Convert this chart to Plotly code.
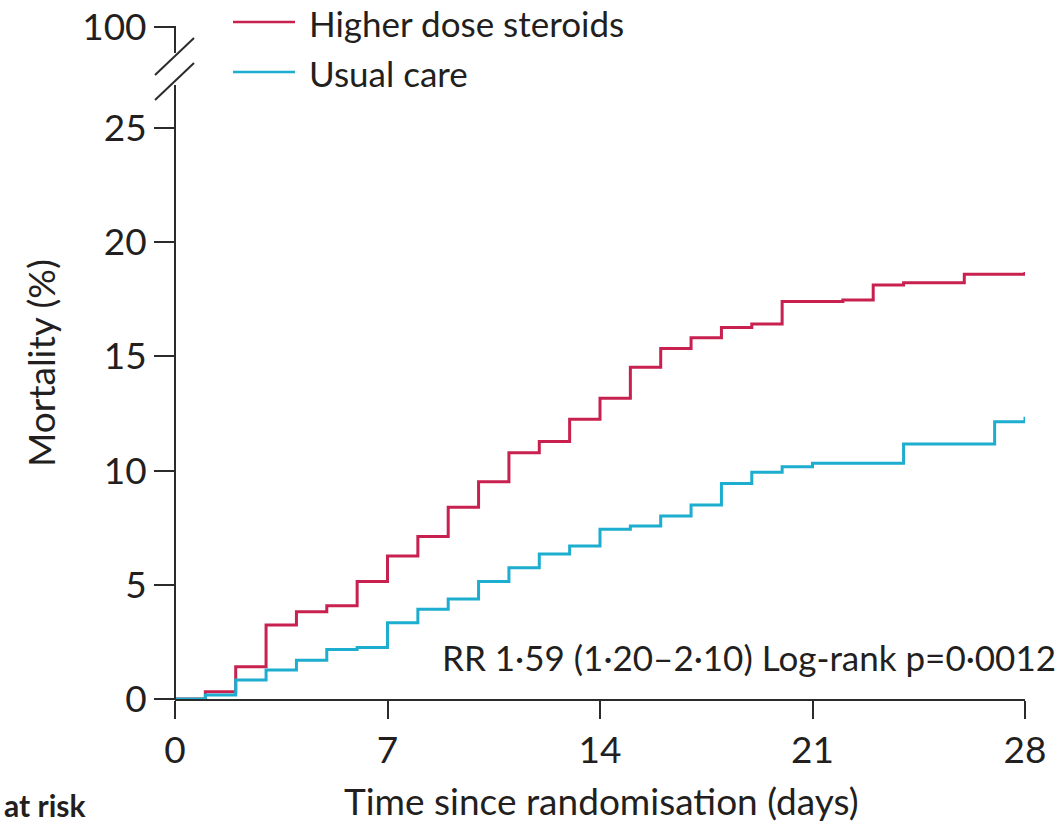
import plotly.graph_objects as go

# ---- data ----
days = list(range(0, 29))
higher_dose = [0, 0.32, 1.41, 3.24, 3.82, 4.08, 5.14, 6.26, 7.11, 8.39, 9.51, 10.78, 11.27,
               12.25, 13.17, 14.52, 15.35, 15.82, 16.27, 16.42, 17.40, 17.40, 17.47, 18.13,
               18.23, 18.23, 18.60, 18.60, 18.70]
usual_care = [0, 0.18, 0.83, 1.27, 1.70, 2.17, 2.26, 3.34, 3.93, 4.38, 5.14, 5.75, 6.35,
              6.70, 7.43, 7.57, 8.01, 8.49, 9.44, 9.93, 10.17, 10.32, 10.32, 10.32, 11.16,
              11.16, 11.16, 12.14, 12.36]
series_names = ["Higher dose steroids", "Usual care"]
x_ticks = [0, 7, 14, 21, 28]
y_ticks = [0, 5, 10, 15, 20, 25]
y_tick_labels = ["0", "5", "10", "15", "20", "25"]
top_tick_label = "100"
x_title = "Time since randomisation (days)"
y_title = "Mortality (%)"
annotation_text = "RR 1·59 (1·20–2·10) Log-rank p=0·0012"
risk_label = "at risk"

RED = "#C8204F"
BLUE = "#1DADCF"
AXIS = "#2b2b2b"
TXT = "#231F20"
FONT = "Lato, sans-serif"
FS = 37
FS_SMALL = 35

# geometry
W, H = 1064, 825
px0, px1 = 175, 1025          # x=0 .. x=28
py0, py25 = 699, 128          # y=0, y=25
ppu = (py0 - py25) / 25.0
top_px = 20
y_max = (py0 - top_px) / ppu
y100 = (py0 - 27) / ppu        # position of the "100" tick above the axis break


def xp(px):
    return (px - px0) / (px1 - px0)


def ypp(py):
    return (py0 - py) / (py0 - top_px)


fig = go.Figure()
fig.add_trace(go.Scatter(x=days, y=higher_dose, mode="lines", line=dict(shape="hv", color=RED, width=3),
                         name=series_names[0], showlegend=False))
fig.add_trace(go.Scatter(x=days, y=usual_care, mode="lines", line=dict(shape="hv", color=BLUE, width=3),
                         name=series_names[1], showlegend=False))

shapes = []
# broken y axis (paper refs so nothing is clipped)
shapes.append(dict(type="line", xref="paper", yref="paper", x0=0, x1=0, y0=ypp(py0 + 1), y1=ypp(85),
                   line=dict(color=AXIS, width=2)))
shapes.append(dict(type="line", xref="paper", yref="paper", x0=0, x1=0, y0=ypp(26), y1=ypp(53),
                   line=dict(color=AXIS, width=2)))
for mid in (56.5, 81.5):
    shapes.append(dict(type="line", xref="paper", yref="paper", xsizemode="pixel", ysizemode="pixel",
                       xanchor=0, yanchor=ypp(mid), x0=-20, x1=19, y0=-18.5, y1=18.5,
                       line=dict(color=AXIS, width=2)))

annotations = []
# manual legend
for name, col, py in ((series_names[0], RED, 22), (series_names[1], BLUE, 72)):
    shapes.append(dict(type="line", xref="paper", yref="paper", x0=xp(233), x1=xp(295), y0=ypp(py), y1=ypp(py),
                       line=dict(color=col, width=2.5)))
    annotations.append(dict(text=name, xref="paper", yref="paper", x=xp(307), y=ypp(py + 1), xanchor="left",
                            yanchor="middle", showarrow=False, font=dict(family=FONT, size=FS_SMALL, color=TXT)))

annotations.append(dict(text=annotation_text, xref="paper", yref="paper", x=xp(1058), y=ypp(657),
                        xanchor="right", yanchor="middle", showarrow=False,
                        font=dict(family=FONT, size=FS_SMALL, color=TXT)))
annotations.append(dict(text=x_title, xref="paper", yref="paper", x=xp(601), y=ypp(801),
                        xanchor="center", yanchor="middle", showarrow=False,
                        font=dict(family=FONT, size=FS, color=TXT)))
annotations.append(dict(text=y_title, xref="paper", yref="paper", x=xp(40), y=ypp(363),
                        xanchor="center", yanchor="middle", textangle=-90, showarrow=False,
                        font=dict(family=FONT, size=FS, color=TXT)))
annotations.append(dict(text="<b>" + risk_label + "</b>", xref="paper", yref="paper", x=xp(2), y=ypp(825),
                        xanchor="left", yanchor="bottom", showarrow=False,
                        font=dict(family=FONT, size=30, color=TXT)))

fig.update_layout(
    width=W, height=H,
    margin=dict(l=px0, r=W - px1, t=top_px, b=H - py0, autoexpand=False),
    paper_bgcolor="white", plot_bgcolor="white",
    font=dict(family=FONT, size=FS, color=TXT),
    shapes=shapes, annotations=annotations,
    showlegend=False,
)
fig.update_xaxes(range=[0, 28], tickvals=x_ticks, ticks="outside", ticklen=18, tickwidth=2, tickcolor=AXIS,
                 showline=True, linecolor=AXIS, linewidth=2, showgrid=False, zeroline=False,
                 automargin=False, tickfont=dict(size=FS))
fig.update_yaxes(range=[0, y_max], tickvals=y_ticks + [y100], ticktext=y_tick_labels + [top_tick_label],
                 ticks="outside", ticklen=20, tickwidth=2, tickcolor=AXIS,
                 showline=False, showgrid=False, zeroline=False, automargin=False,
                 tickfont=dict(size=FS))

fig.write_html("out.html")
